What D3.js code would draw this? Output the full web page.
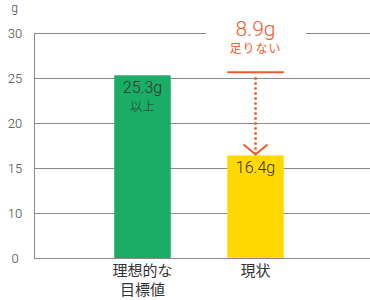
<!DOCTYPE html>
<html>
<head>
<meta charset="utf-8">
<script src="https://cdn.jsdelivr.net/npm/d3@7"></script>
<style>
  body { margin: 0; background: #fff; }
  text { font-family: "Roboto", "Noto Sans CJK JP", sans-serif; }
  .jp { font-family: "Noto Sans CJK JP", sans-serif; }
</style>
</head>
<body>
<div id="viz"></div>
<script>
const categories = ["理想的な\n目標値", "現状"];
const values = [25.3, 16.4];
const valueLabels = ["25.3g", "16.4g"];
const valueNotes = ["以上", ""];
const tickValues = [0, 10, 15, 20, 25, 30];
const unitLabel = "g";
const diffLabel = "8.9g";
const diffNote = "足りない";

const width = 370;
const height = 300;

const svg = d3.select("#viz")
  .append("svg")
  .attr("width", width)
  .attr("height", height);

// axis is broken below 10, like the original
const y = d3.scaleLinear()
  .domain([0, 10, 30])
  .range([258, 213, 33]);

const x = d3.scaleBand()
  .domain(categories)
  .range([30, 368])
  .paddingInner(0.5)
  .paddingOuter(0.745);

const left = 34;
const gridColor = "#8a8a8a";
const orange = "#f05a28";

// grid lines
svg.selectAll("line.grid")
  .data(tickValues)
  .enter()
  .append("line")
  .attr("class", "grid")
  .attr("x1", left)
  .attr("x2", width)
  .attr("y1", d => Math.round(y(d)) + 0.5)
  .attr("y2", d => Math.round(y(d)) + 0.5)
  .attr("stroke", gridColor)
  .attr("stroke-width", 1);

svg.append("line")
  .attr("x1", left + 0.5)
  .attr("x2", left + 0.5)
  .attr("y1", Math.round(y(30)) + 0.5)
  .attr("y2", Math.round(y(0)) + 0.5)
  .attr("stroke", gridColor);

// tick labels
svg.selectAll("text.tick")
  .data(tickValues)
  .enter()
  .append("text")
  .attr("class", "tick")
  .attr("x", 15)
  .attr("y", d => y(d) + 4.5)
  .attr("text-anchor", "middle")
  .attr("font-size", 13)
  .attr("font-weight", 300)
  .attr("fill", "#444")
  .text(d => d);

svg.append("text")
  .attr("x", 14.5)
  .attr("y", 11.5)
  .attr("text-anchor", "middle")
  .attr("font-size", 12)
  .attr("font-weight", 300)
  .attr("fill", "#444")
  .text(unitLabel);

// bars
const colors = ["#19ad66", "#ffd900"];
svg.selectAll("rect.bar")
  .data(values)
  .enter()
  .append("rect")
  .attr("class", "bar")
  .attr("x", (d, i) => x(categories[i]))
  .attr("width", x.bandwidth())
  .attr("y", d => y(d))
  .attr("height", d => y(0) - y(d))
  .attr("fill", (d, i) => colors[i]);

// labels on bars
svg.selectAll("text.val")
  .data(values)
  .enter()
  .append("text")
  .attr("class", "val")
  .attr("x", (d, i) => x(categories[i]) + x.bandwidth() / 2)
  .attr("y", d => y(d) + 18)
  .attr("text-anchor", "middle")
  .attr("font-size", 16)
  .attr("font-weight", 300)
  .attr("fill", "#333")
  .text((d, i) => valueLabels[i]);

svg.selectAll("text.note")
  .data(values)
  .enter()
  .append("text")
  .attr("class", "note jp")
  .attr("x", (d, i) => x(categories[i]) + x.bandwidth() / 2)
  .attr("y", d => y(d) + 36)
  .attr("text-anchor", "middle")
  .attr("font-size", 12.5)
  .attr("font-weight", 300)
  .attr("fill", "#333")
  .text((d, i) => valueNotes[i]);

// category labels
categories.forEach((c, i) => {
  const t = svg.append("text")
    .attr("class", "jp")
    .attr("text-anchor", "middle")
    .attr("font-size", 15)
    .attr("fill", "#333");
  c.split("\n").forEach((line, j) => {
    t.append("tspan")
      .attr("x", x(c) + x.bandwidth() / 2)
      .attr("y", 276 + j * 19)
      .text(line);
  });
});

// difference marker
const cx = x(categories[1]) + x.bandwidth() / 2;
const topY = y(values[0]) - 3;
const botY = y(values[1]);

svg.append("rect")
  .attr("x", 206)
  .attr("y", 20)
  .attr("width", 100)
  .attr("height", 30)
  .attr("fill", "#fff");

svg.append("line")
  .attr("x1", x(categories[1]))
  .attr("x2", x(categories[1]) + x.bandwidth())
  .attr("y1", topY)
  .attr("y2", topY)
  .attr("stroke", orange)
  .attr("stroke-width", 2);

svg.append("line")
  .attr("x1", cx)
  .attr("x2", cx)
  .attr("y1", topY + 5)
  .attr("y2", botY - 2)
  .attr("stroke", orange)
  .attr("stroke-width", 2.5)
  .attr("stroke-dasharray", "2.5,2.5");

svg.append("path")
  .attr("d", `M${cx - 12},${botY - 11} L${cx},${botY - 1} L${cx + 12},${botY - 11}`)
  .attr("fill", "none")
  .attr("stroke", orange)
  .attr("stroke-width", 2);

svg.append("text")
  .attr("x", cx)
  .attr("y", 36)
  .attr("text-anchor", "middle")
  .attr("font-size", 21)
  .attr("font-weight", 300)
  .attr("fill", orange)
  .text(diffLabel);

svg.append("text")
  .attr("class", "jp")
  .attr("x", cx)
  .attr("y", 53)
  .attr("text-anchor", "middle")
  .attr("font-size", 12)
  .attr("fill", orange)
  .attr("letter-spacing", 1)
  .text(diffNote);
</script>
</body>
</html>
